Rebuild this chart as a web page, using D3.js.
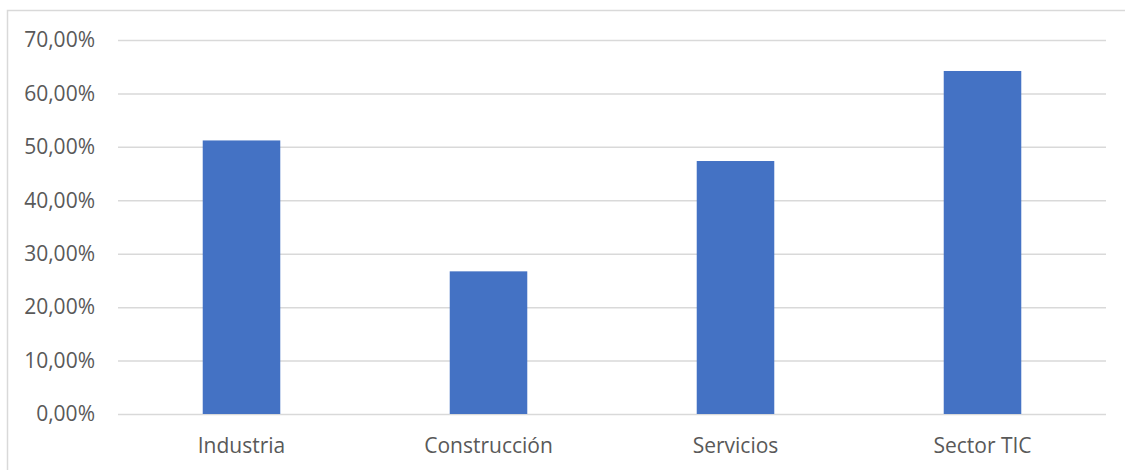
<!DOCTYPE html>
<html>
<head>
<meta charset="utf-8">
<script src="https://cdn.jsdelivr.net/npm/d3@7"></script>
<style>
  body { margin: 0; background: #fff; }
  svg { display: block; font-family: "Open Sans", sans-serif; }
</style>
</head>
<body>
<svg id="chart" width="1125" height="470"></svg>
<script>
// sectors and share (%) per sector
var sectors = ["Industria", "Construcción", "Servicios", "Sector TIC"];
var shares = [51.2, 26.7, 47.35, 64.2];
var yTicks = [0, 10, 20, 30, 40, 50, 60, 70];

var width = 1125, height = 470;
var margin = {left: 118, right: 19, top: 40, bottom: 56};

var svg = d3.select("#chart");

// outer frame (left and top edges only show)
svg.append("path")
  .attr("d", "M7.5,470 V10.5 H1125")
  .attr("fill", "none")
  .attr("stroke", "#d9d9d9")
  .attr("stroke-width", 1.5);

var x = d3.scaleBand()
  .domain(sectors)
  .range([margin.left, width - margin.right])
  .paddingInner(0.686)
  .paddingOuter(0.343);

var y = d3.scaleLinear()
  .domain([0, 70])
  .range([height - margin.bottom, margin.top]);

var fmt = function(d) { return d.toFixed(2).replace(".", ",") + "%"; };

// gridlines + labels on the left
var yAxis = svg.append("g")
  .attr("transform", `translate(${margin.left},0)`)
  .call(d3.axisLeft(y).tickValues(yTicks).tickFormat(fmt).tickSize(-(width - margin.left - margin.right)).tickPadding(23))
  .call(g => g.select(".domain").remove())
  .call(g => g.selectAll(".tick line").attr("stroke", "#d9d9d9").attr("stroke-width", 1.5))
  .call(g => g.selectAll(".tick text")
    .attr("fill", "#595959")
    .attr("font-size", "21px")
    .attr("font-family", "Open Sans, sans-serif"));

svg.selectAll("rect.bar")
  .data(sectors)
  .join("rect")
  .attr("class", "bar")
  .attr("x", d => x(d))
  .attr("width", x.bandwidth())
  .attr("y", (d, i) => y(shares[i]))
  .attr("height", (d, i) => y(0) - y(shares[i]))
  .attr("fill", "#4472c4");

// category labels
svg.append("g")
  .attr("transform", `translate(0,${height - margin.bottom})`)
  .call(d3.axisBottom(x).tickSize(0).tickPadding(0))
  .call(g => g.select(".domain").remove())
  .call(g => g.selectAll(".tick text")
    .attr("y", 39)
    .attr("dy", 0)
    .attr("fill", "#595959")
    .attr("font-size", "21px")
    .attr("font-family", "Open Sans, sans-serif"));
</script>
</body>
</html>
